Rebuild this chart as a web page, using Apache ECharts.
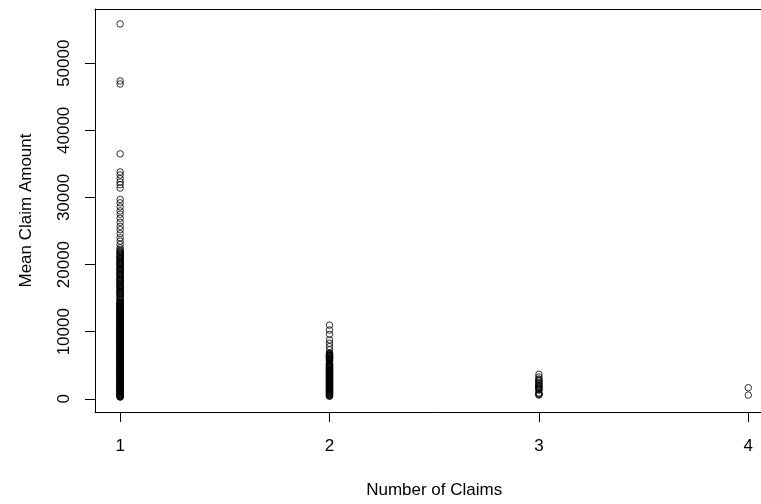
<!DOCTYPE html>
<html>
<head>
<meta charset="utf-8">
<script src="https://cdn.jsdelivr.net/npm/echarts@6/dist/echarts.min.js"></script>
<style>
html,body{margin:0;padding:0;background:#fff;overflow:hidden;}
#chart{position:absolute;left:0;top:0;width:774px;height:504px;}
</style>
</head>
<body>
<div id="chart"></div>
<script>
// Number of claims (x categories)
const numClaims = [1, 2, 3, 4];

// Mean claim amount for policies with 1 claim
const claims1 = [
  55850, 47350, 46900, 36500,
  33800, 33350, 32800, 32300, 31900, 31400,
  29700, 29200, 28600, 28000, 27500, 26900, 26300, 25700, 25200, 24600,
  24000, 23500, 23000, 22500, 22250, 22000, 21800, 21600, 21400, 21200, 21050,
  20900, 20700, 20500, 20350, 20200, 20050,
  19900, 19700, 19500, 19350, 19200, 19050, 18800, 18650, 18500, 18300, 18100,
  17950, 17800, 17650, 17500, 17300, 17100, 16950, 16800, 16650,
  16500, 16300, 16100, 15950, 15800, 15600, 15300, 15000, 14750, 14550,
  21900, 21500, 21100, 20800, 20400, 20100, 19800, 19400, 19100, 18700,
  18400, 18000, 17700, 17400, 17000, 16700, 16400, 16000, 15700, 15450, 15150, 14850,
  14400, 14270, 14150, 14020, 13880, 13750, 13630, 13500, 13360, 13240,
  13110, 12980, 12850, 12720, 12600, 12470, 12330, 12200, 12080, 11950,
  11820, 11700, 11560, 11430, 11310, 11180, 11050, 10920, 10800, 10670,
  10540, 10410, 10290, 10160, 10030, 9900, 9780, 9650, 9520, 9390,
  9270, 9140, 9010, 8880, 8760, 8630, 8500, 8370, 8250, 8120,
  7990, 7860, 7740, 7610, 7480, 7350, 7230, 7100, 6970, 6840,
  6720, 6590, 6460, 6330, 6210, 6080, 5950, 5820, 5700, 5570,
  5440, 5310, 5190, 5060, 4930, 4800, 4680, 4550, 4420, 4290,
  4170, 4040, 3910, 3780, 3660, 3530, 3400, 3270, 3150, 3020,
  2890, 2760, 2640, 2510, 2380, 2250, 2130, 2000, 1870, 1740,
  1620, 1490, 1360, 1230, 1110, 980, 850, 720, 600, 470, 340, 260,
  14330, 14210, 14080, 13950, 13810, 13690, 13560, 13430, 13300, 13170,
  13040, 12910, 12780, 12660, 12530, 12400, 12260, 12140, 12010, 11880,
  11760, 11630, 11490, 11370, 11240, 11110, 10980, 10860, 10730, 10600,
  10470, 10350, 10220, 10090, 9960, 9840, 9710, 9580, 9450, 9330,
  9200, 9070, 8940, 8820, 8690, 8560, 8430, 8310, 8180, 8050,
  7920, 7800, 7670, 7540, 7410, 7290, 7160, 7030, 6900, 6780,
  6650, 6520, 6390, 6270, 6140, 6010, 5880, 5760, 5630, 5500,
  5370, 5250, 5120, 4990, 4860, 4740, 4610, 4480, 4350, 4230,
  4100, 3970, 3840, 3720, 3590, 3460, 3330, 3210, 3080, 2950,
  2820, 2700, 2570, 2440, 2310, 2190, 2060, 1930, 1800, 1680,
  1550, 1420, 1290, 1170, 1040, 910, 780, 660, 530, 400, 300
];

// Mean claim amount for policies with 2 claims
const claims2 = [
  10980, 10250, 9600, 8780, 8280, 7780, 7300, 6800, 6650, 6500,
  6360, 6220, 6080, 5950, 5800, 5650, 5350, 5200, 5060, 4920,
  4780, 4640, 4500, 4370, 4230, 4090, 3950, 3820, 3680, 3540,
  3400, 3270, 3130, 2990, 2850, 2720, 2580, 2440, 2300, 2170,
  2030, 1890, 1750, 1620, 1480, 1340, 1200, 1070, 930, 790,
  650, 520, 380,
  6720, 6570, 6430, 6290, 6150, 6010, 5870, 5720, 5280, 5130,
  4990, 4850, 4710, 4570, 4430, 4300, 4160, 4020, 3880, 3750,
  3610, 3470, 3330, 3200, 3060, 2920, 2780, 2650, 2510, 2370,
  2230, 2100, 1960, 1820, 1680, 1550, 1410, 1270, 1130, 1000,
  860, 720, 580, 450
];

// Mean claim amount for policies with 3 claims
const claims3 = [
  3650, 3250, 2950, 2800, 2650, 2380, 2250, 2100, 1960, 1820,
  1700, 1550, 1400, 1290, 900, 780, 650, 560
];

// Mean claim amount for policies with 4 claims
const claims4 = [1650, 560];

// Tick labels
const xTicks = [1, 2, 3, 4];
const yTicks = [0, 10000, 20000, 30000, 40000, 50000];

const groups = [claims1, claims2, claims3, claims4];
const points = [];
groups.forEach((vals, i) => {
  vals.forEach(v => points.push([numClaims[i], v]));
});

const chart = echarts.init(document.getElementById('chart'), null, {renderer: 'canvas', width: 774, height: 504});
const font = 'Liberation Sans, Arial, sans-serif';
const frameLine = {show: true, onZero: false, lineStyle: {color: '#000', width: 1}};

chart.setOption({
  animation: false,
  backgroundColor: '#fff',
  grid: {left: 95, top: 9, right: 0.6, bottom: 88, show: false},
  xAxis: [{
    type: 'value',
    position: 'bottom',
    min: 0.88, max: 4.12,
    name: 'Number of Claims',
    nameLocation: 'middle',
    nameGap: 70,
    nameTextStyle: {fontFamily: font, fontSize: 17, color: '#000'},
    axisLine: frameLine,
    splitLine: {show: false},
    axisTick: {show: true, length: 10, inside: false, customValues: xTicks, lineStyle: {color: '#000', width: 1}},
    axisLabel: {customValues: xTicks, fontFamily: font, fontSize: 17, color: '#000', margin: 26,
      formatter: v => String(v)}
  }, {
    type: 'value',
    position: 'top',
    min: 0.88, max: 4.12,
    axisLine: frameLine,
    axisTick: {show: false},
    axisLabel: {show: false},
    splitLine: {show: false}
  }],
  yAxis: {
    type: 'value',
    min: -1963, max: 58075,
    name: 'Mean Claim Amount',
    nameLocation: 'middle',
    nameGap: 60,
    nameRotate: 90,
    nameTextStyle: {fontFamily: font, fontSize: 17, color: '#000'},
    axisLine: frameLine,
    splitLine: {show: false},
    axisTick: {show: true, length: 10, inside: false, customValues: yTicks, lineStyle: {color: '#000', width: 1}},
    axisLabel: {customValues: yTicks, rotate: 90, fontFamily: font, fontSize: 17, color: '#000', margin: 22.5,
      formatter: v => String(v)}
  },
  series: [{
    type: 'scatter',
    data: points,
    symbol: 'circle',
    symbolSize: 6.5,
    itemStyle: {color: 'rgba(0,0,0,0)', borderColor: '#000', borderWidth: 1},
    emphasis: {disabled: true}
  }]
});
</script>
</body>
</html>
